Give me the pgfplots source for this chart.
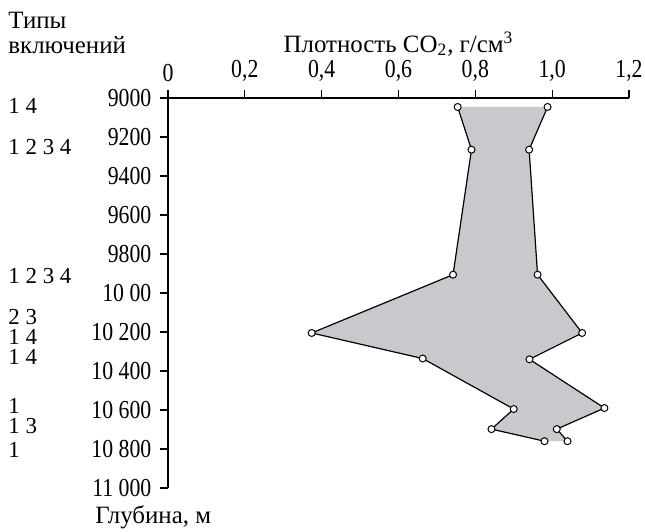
\documentclass[border=0pt]{standalone}
\usepackage{fontspec}
\setmainfont{Liberation Serif}
\newfontfamily\tickfont[FakeStretch=0.84]{Liberation Serif}
\usepackage{pgfplots}
\pgfplotsset{compat=1.18}
\definecolor{fillgray}{RGB}{200,201,204}
\begin{document}
\fontsize{12.5}{13}\selectfont
\begin{tikzpicture}
\begin{axis}[
  scale only axis, width=230.5bp, height=195bp,
  xmin=0, xmax=1.2, ymin=9000, ymax=11000,
  y dir=reverse,
  axis x line*=top, axis y line*=left,
  x axis line style={-}, y axis line style={-},
  tick align=outside, major tick length=4bp,
  scaled y ticks=false, scaled x ticks=false,
  xtick={0,0.2,0.4,0.6,0.8,1.0,1.2},
  xticklabels={0,{0,2},{0,4},{0,6},{0,8},{1,0},{1,2}},
  ytick={9000,9200,9400,9600,9800,10000,10200,10400,10600,10800,11000},
  yticklabels={9000,9200,9400,9600,9800,10 00,10 200,10 400,10 600,10 800,11 000},
  tick label style={font=\tickfont\fontsize{13}{13}\selectfont},
  axis line style={line width=0.6pt},
  tick style={line width=0.6pt, black},
  clip=false,
]
\addplot[fill=fillgray, draw=none, forget plot] coordinates {
 (0.754,9046) (0.790,9265) (0.742,9906) (0.374,10205) (0.663,10336) (0.900,10595) (0.842,10698) (0.980,10760)
 (1.040,10760) (1.012,10698) (1.136,10590) (0.941,10340) (1.078,10205) (0.962,9906) (0.940,9265) (0.988,9046)
} -- cycle;
\addplot[black, line width=0.6pt, mark=*, mark size=1.75bp, mark options={fill=white, line width=0.5pt}] coordinates {
 (0.754,9046) (0.790,9265) (0.742,9906) (0.374,10205) (0.663,10336) (0.900,10595) (0.842,10698) (0.980,10760)
};
\addplot[black, line width=0.6pt, mark=*, mark size=1.75bp, mark options={fill=white, line width=0.5pt}] coordinates {
 (0.988,9046) (0.940,9265) (0.962,9906) (1.078,10205) (0.941,10340) (1.136,10590) (1.012,10698) (1.040,10760)
};
\node[anchor=base west, inner sep=0pt] at (axis cs:-0.4164,8643) {Типы};
\node[anchor=base west, inner sep=0pt] at (axis cs:-0.4164,8770) {включений};
\node[anchor=base, inner sep=0pt] at (axis cs:0.6,8765) {Плотность CO\textsubscript{2}, г/см\textsuperscript{3}};
\node[anchor=base west, inner sep=0pt] at (axis cs:-0.190,11180) {Глубина, м};
\begin{scope}[every node/.style={anchor=west, inner sep=0pt, font=\fontsize{11.5}{12}\selectfont}]
\node at (axis cs:-0.4164,9041) {1 4};
\node at (axis cs:-0.4164,9250) {1 2 3 4};
\node at (axis cs:-0.4164,9913) {1 2 3 4};
\node at (axis cs:-0.4164,10122) {2 3};
\node at (axis cs:-0.4164,10226) {1 4};
\node at (axis cs:-0.4164,10330) {1 4};
\node at (axis cs:-0.4164,10577) {1};
\node at (axis cs:-0.4164,10684) {1 3};
\node at (axis cs:-0.4164,10806) {1};
\end{scope}
\end{axis}
\pgfresetboundingbox
\path[use as bounding box] (-84bp,-22bp) rectangle (238.5bp,244bp);
\end{tikzpicture}
\end{document}
